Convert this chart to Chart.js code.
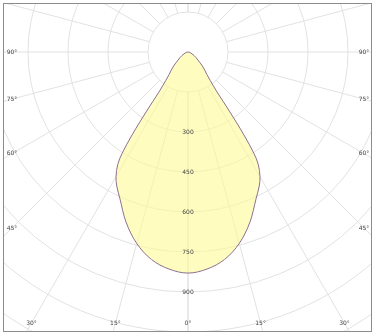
<!DOCTYPE html>
<html>
<head>
<meta charset="utf-8">
<script src="https://cdn.jsdelivr.net/npm/chart.js@4/dist/chart.umd.min.js"></script>
<style>
  html, body { margin: 0; padding: 0; background: #fff; }
  #wrap { width: 376px; height: 335px; }
</style>
</head>
<body>
<div id="wrap"><canvas id="polar" width="376" height="335"></canvas></div>
<script>
// luminous intensity (cd) against angle from nadir, one half-plane, curve is symmetric
const angles = [0, 5, 10, 15, 20, 25, 28, 30, 32, 33, 34, 35, 36, 38, 40, 45, 50, 55, 60, 70, 80, 90];
const intensity = [829, 817, 790, 743, 679, 605, 569, 540, 497, 455, 375, 270, 185, 135, 110, 80, 52, 37, 26, 12, 5, 0];

// grid rings and labels
const ringValues = [150, 300, 450, 600, 750, 900, 1050, 1200, 1350, 1500, 1650];
const ringLabels = [300, 450, 600, 750, 900];
const spokeAngles = [0, 15, 30, 45, 60, 75, 90, 105, 120, 135, 150, 165, 180];
const angleLabels = [0, 15, 30, 45, 60, 75, 90];

const rad = d => d * Math.PI / 180;

// build closed curve: left side from 90 down to 0, then right side 0 up to 90
const curve = [];
for (let i = angles.length - 1; i >= 0; i--) {
  curve.push({ x: -intensity[i] * Math.sin(rad(angles[i])), y: -intensity[i] * Math.cos(rad(angles[i])) });
}
for (let i = 1; i < angles.length; i++) {
  curve.push({ x: intensity[i] * Math.sin(rad(angles[i])), y: -intensity[i] * Math.cos(rad(angles[i])) });
}

const gridColor = '#e2e2e2';
const textColor = '#444';
const font = '6px "DejaVu Sans"';

const polarGrid = {
  id: 'polarGrid',
  beforeDatasetsDraw(chart) {
    const { ctx, chartArea: a, scales: { x, y } } = chart;
    const cx = x.getPixelForValue(0), cy = y.getPixelForValue(0);
    const rOf = v => x.getPixelForValue(v) - cx;
    ctx.save();
    ctx.beginPath();
    ctx.rect(a.left, a.top, a.right - a.left, a.bottom - a.top);
    ctx.clip();
    ctx.strokeStyle = gridColor;
    ctx.lineWidth = 1;
    ringValues.forEach(v => {
      ctx.beginPath();
      ctx.arc(cx, cy, rOf(v), 0, Math.PI * 2);
      ctx.stroke();
    });
    const r0 = rOf(ringValues[0]), r1 = rOf(3000);
    spokeAngles.forEach(d => {
      [-1, 1].forEach(side => {
        const s = Math.sin(rad(d)) * side, c = Math.cos(rad(d));
        ctx.beginPath();
        ctx.moveTo(cx + s * r0, cy + c * r0);
        ctx.lineTo(cx + s * r1, cy + c * r1);
        ctx.stroke();
      });
    });
    ctx.restore();
  },
  afterDatasetsDraw(chart) {
    const { ctx, chartArea: a, scales: { x, y } } = chart;
    const cx = x.getPixelForValue(0), cy = y.getPixelForValue(0);
    const rOf = v => x.getPixelForValue(v) - cx;
    ctx.save();
    ctx.font = font;
    ctx.fillStyle = textColor;
    ctx.textAlign = 'center';
    ctx.textBaseline = 'middle';
    ringLabels.forEach(v => ctx.fillText(String(v), cx, cy + rOf(v)));

    const left = a.left + 9, right = a.right - 7, bottom = a.bottom - 8;
    angleLabels.forEach(d => {
      const sides = d === 0 ? [1] : [-1, 1];
      sides.forEach(side => {
        const s = Math.sin(rad(d)), c = Math.cos(rad(d));
        const dx = side < 0 ? cx - left : right - cx;
        const t1 = s > 1e-6 ? dx / s : Infinity;
        const t2 = c > 1e-6 ? (bottom - cy) / c : Infinity;
        const t = Math.min(t1, t2);
        ctx.fillText(d + '°', cx + side * s * t, cy + c * t);
      });
    });

    ctx.strokeStyle = '#8c8c8c';
    ctx.lineWidth = 1;
    ctx.strokeRect(a.left + 0.5, a.top + 0.5, a.right - a.left, a.bottom - a.top);
    ctx.restore();
  }
};

new Chart(document.getElementById('polar').getContext('2d'), {
  type: 'scatter',
  data: {
    datasets: [{
      data: curve,
      showLine: true,
      fill: 'shape',
      backgroundColor: 'rgba(255, 250, 150, 0.6)',
      borderColor: '#8b6f8f',
      borderWidth: 1,
      tension: 0.35,
      pointRadius: 0
    }]
  },
  options: {
    responsive: false,
    animation: false,
    layout: { padding: { left: 3, top: 3, right: 5, bottom: 4 } },
    plugins: { legend: { display: false }, tooltip: { enabled: false } },
    scales: {
      x: { type: 'linear', display: false, min: -693.75, max: 686.25 },
      y: { type: 'linear', display: false, min: -1046.25, max: 183.75 }
    }
  },
  plugins: [polarGrid]
});
</script>
</body>
</html>
